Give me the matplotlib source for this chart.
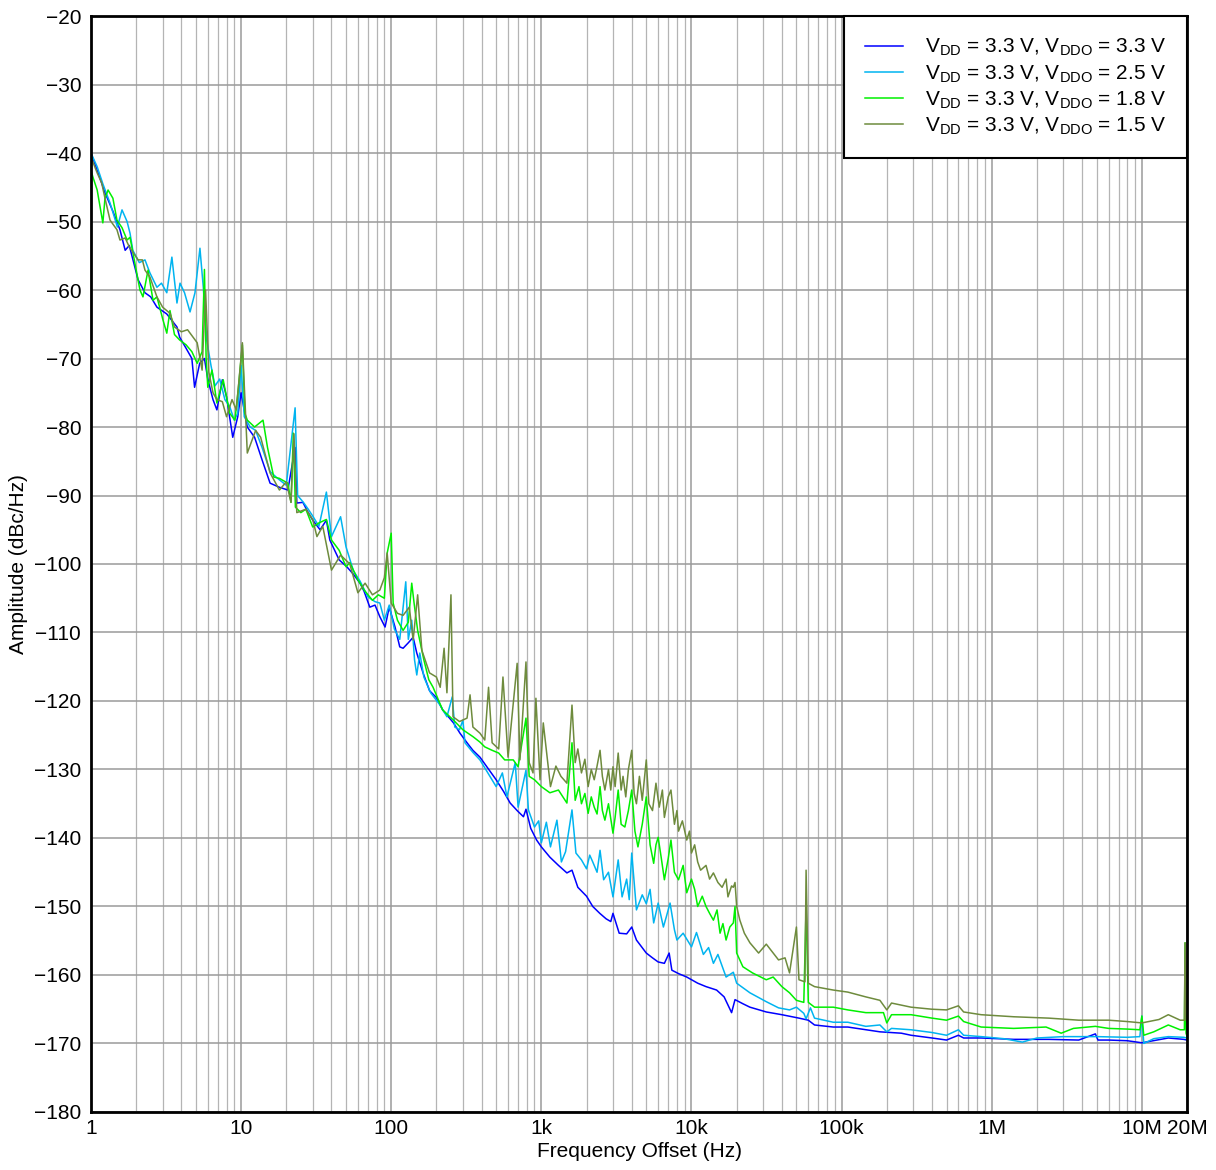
import matplotlib
matplotlib.use("Agg")
import matplotlib.pyplot as plt
from matplotlib.ticker import FixedLocator, LogLocator, NullFormatter

plt.rcParams['font.family'] = ['Liberation Sans', 'DejaVu Sans']
plt.rcParams['mathtext.fontset'] = 'custom'
plt.rcParams['mathtext.rm'] = 'Liberation Sans'

# ---- data: (offset in Hz, phase noise in dBc/Hz) ----
blue_pts = [
    (1, -40), (1.1, -42.5), (1.24, -45.8), (1.4, -48.5), (1.56, -51.2), (1.69, -54.2), (1.8, -53.5),
    (2.06, -58.5), (2.29, -60.4), (2.5, -61), (2.75, -62.5), (3.2, -63.5), (3.74, -65.4), (3.9, -66.9),
    (4.3, -68.5), (4.7, -70), (4.9, -74.2), (5.3, -70.7), (5.7, -70), (6.0, -73), (6.5, -76),
    (6.9, -77.5), (7.5, -73.1), (8.0, -75.6), (8.8, -81.5), (9.5, -78.5), (10, -75), (11, -80),
    (12.3, -81.5), (13.8, -84.8), (15.6, -88.2), (18, -88.8), (20.5, -89.2), (22.9, -83),
    (23.5, -91.1), (25.8, -91), (28, -92.5), (30, -93.6), (33.6, -95), (37, -93.6), (39, -96.5),
    (42, -98), (45, -99.4), (50.6, -100.4), (56, -101.5), (62, -102.8), (66, -104), (72, -106.3),
    (78, -106), (84, -107.7), (91, -109.2), (97, -106.3), (106, -109.2), (114, -112.1),
    (120, -112.3), (130, -111.5), (140, -110.7), (148, -113), (163, -115.9), (180, -118.5),
    (200, -119.5), (220, -121.3), (240, -122.3), (260, -123.2), (287, -124.7), (320, -126.1),
    (350, -127.2), (390, -128.2), (440, -129.8), (500, -131.5), (560, -133.2), (620, -134.9),
    (690, -136), (760, -136.9), (790, -135.8), (850, -138.6), (930, -140.3), (1000, -141.3),
    (1140, -142.8), (1300, -144), (1480, -145.1), (1600, -144.7), (1750, -147.2), (2000, -148.5),
    (2200, -150), (2450, -151), (2700, -151.8), (2900, -152.2), (3000, -151), (3300, -153.9),
    (3700, -154), (4000, -153), (4300, -154.9), (5000, -156.8), (5500, -157.5), (6000, -158.1),
    (6600, -158.3), (7100, -156.8), (7400, -159.3), (8200, -159.8), (9300, -160.3),
    (11000, -161.2), (12500, -161.7), (14700, -162.2), (16500, -163.2), (18500, -165.5),
    (19500, -163.6), (22000, -164.2), (24500, -164.7), (31500, -165.4), (40000, -165.8),
    (52000, -166.3), (60000, -166.6), (66000, -167.3), (88000, -167.6), (110000, -167.6),
    (145000, -168), (180000, -168.3), (210000, -168.4), (250000, -168.5), (290000, -168.8),
    (400000, -169.2), (500000, -169.5), (600000, -168.8), (650000, -169.2), (850000, -169.2),
    (1.4e6, -169.4), (2.4e6, -169.4), (3.8e6, -169.5), (4.9e6, -168.6), (5.1e6, -169.5),
    (6e6, -169.5), (8e6, -169.6), (1e7, -169.9), (1.5e7, -169.2), (1.9e7, -169.4), (2e7, -169.5)]

cyan_pts = [
    (1, -40), (1.1, -42), (1.2, -44.5), (1.34, -47.3), (1.5, -50.8), (1.61, -48.3), (1.74, -50),
    (1.82, -51.7), (1.9, -54.2), (2.1, -56), (2.29, -55.6), (2.47, -57.5), (2.75, -59.6),
    (2.95, -59), (3.2, -60.4), (3.46, -55.2), (3.74, -61.9), (3.92, -59), (4.2, -60.4),
    (4.57, -63.2), (4.93, -60.4), (5.32, -53.9), (5.6, -59.6), (5.9, -67.3), (6.3, -71), (6.7, -74),
    (7.2, -73), (7.8, -76), (8.4, -77), (9.0, -79), (9.5, -78), (10, -71), (10.5, -78.5),
    (11.5, -80), (12.5, -80.5), (13.8, -83), (15.6, -86.5), (17.5, -87.5), (20, -88.5),
    (22.9, -77.2), (23.8, -90), (26, -91), (28, -92), (30, -93), (33, -94.5), (37, -89.5),
    (40, -96), (46, -93.1), (50, -97.5), (56, -101), (62, -102.5), (70, -104.8), (78, -105.5),
    (84, -105.7), (90, -108.2), (97, -106), (105, -109.5), (114, -111), (125, -102.6), (130, -111),
    (137, -108.2), (143, -114), (148, -116.2), (155, -113), (165, -116.5), (183, -118.8),
    (210, -120.5), (235, -122.3), (255, -119.4), (265, -123.8), (285, -124.2), (300, -122.8),
    (310, -126.1), (350, -127.5), (390, -128.6), (440, -130.5), (500, -132.5), (550, -130.5),
    (590, -134), (670, -129), (700, -135.5), (790, -130.1), (820, -135.9), (900, -138.4),
    (960, -137.5), (1000, -140.7), (1080, -137.7), (1150, -141.3), (1270, -137.4), (1360, -143.5),
    (1450, -142), (1600, -135.9), (1700, -142.2), (1850, -143.2), (2000, -144.5), (2100, -142.5),
    (2200, -143.5), (2350, -145), (2460, -141.8), (2600, -146.1), (2800, -145), (3000, -148.6),
    (3250, -143.2), (3450, -148.6), (3700, -146), (3850, -149), (4000, -142.2), (4300, -150.5),
    (4700, -148.3), (5000, -149.6), (5300, -147.5), (5600, -152.4), (6000, -149.5), (6500, -153),
    (6800, -151.5), (7200, -149.5), (7700, -153.4), (8000, -154.9), (8800, -153.9),
    (10000, -155.9), (10800, -153.8), (12000, -157), (13000, -156), (14000, -158.3),
    (15000, -157), (17000, -160.3), (19000, -159.6), (20000, -161.2), (24500, -162.6),
    (31500, -163.9), (38000, -164.8), (45000, -165.1), (50000, -164.7), (56000, -165.6),
    (58000, -166.4), (62000, -164.8), (66000, -166.3), (88000, -166.9), (110000, -166.9),
    (145000, -167.5), (180000, -167.3), (200000, -168.3), (215000, -167.8), (290000, -168),
    (400000, -168.4), (500000, -168.8), (600000, -168), (650000, -168.8), (850000, -169),
    (1.2e6, -169.3), (1.6e6, -169.8), (2e6, -169.2), (3e6, -169), (5e6, -169), (8e6, -169.1),
    (9.7e6, -169), (1e7, -166), (1.03e7, -170), (1.2e7, -169.3), (1.5e7, -169), (1.9e7, -169.1),
    (2e7, -169.2)]

green_pts = [
    (1, -42.5), (1.03, -43.5), (1.1, -45.4), (1.18, -49.3), (1.2, -50.2), (1.24, -46.6),
    (1.3, -45.4), (1.4, -46.6), (1.49, -49.8), (1.61, -50.9), (1.74, -52.7), (1.82, -52.3),
    (1.96, -56), (2.12, -60), (2.22, -61), (2.4, -57.1), (2.59, -61.5), (2.75, -61), (3.02, -64.4),
    (3.2, -66.3), (3.36, -63), (3.6, -66.5), (3.9, -67.3), (4.3, -68), (4.7, -69), (5.1, -70.7),
    (5.5, -69), (5.7, -57), (5.85, -70), (6.0, -74.2), (6.4, -71.7), (6.9, -76.5), (7.6, -73.1),
    (8.4, -78), (9.1, -79), (9.6, -74.2), (10.2, -68), (10.6, -78), (11, -79), (12.3, -80),
    (14, -79), (15, -83), (16.5, -87.3), (18, -87.5), (20.5, -88.2), (21.5, -91), (22.3, -80.9),
    (23, -91.7), (25, -92.5), (27, -92), (30, -94.6), (33, -94), (37, -93.5), (40, -96.5),
    (45, -98), (50, -100.4), (53, -99.8), (60, -102.3), (66, -103.8), (75, -105.3), (82, -104.5),
    (90, -105), (94, -98.4), (100, -95.5), (103, -105.7), (110, -108.2), (120, -109.7),
    (130, -108.5), (137, -102.8), (142, -105.7), (150, -109.7), (165, -114), (178, -116.9),
    (190, -118), (220, -121.3), (260, -122.8), (300, -124.2), (350, -125.2), (390, -126),
    (420, -126.7), (470, -127.2), (520, -127.6), (570, -128.6), (650, -128.6), (700, -129.6),
    (790, -122.5), (830, -131), (900, -131.5), (1000, -132.5), (1140, -133.4), (1300, -133),
    (1480, -134.9), (1600, -126.1), (1680, -134.5), (1780, -132.5), (1850, -135), (1950, -133.5),
    (2050, -136.4), (2150, -134), (2250, -135.5), (2350, -136.5), (2460, -132.5), (2550, -136),
    (2650, -137.4), (2800, -135), (3000, -139.3), (3100, -137), (3250, -133), (3400, -138),
    (3600, -138.4), (3800, -136), (4000, -133), (4200, -139), (4400, -141.3), (4700, -138),
    (5000, -134), (5300, -141), (5600, -143.7), (5800, -141), (6000, -139.9), (6300, -143),
    (6600, -146.1), (7000, -143), (7300, -140.3), (7700, -145), (8200, -146.1), (8800, -144),
    (9300, -148), (10000, -146), (10500, -147.5), (11000, -150), (11800, -148.5), (12500, -150),
    (13200, -151), (14000, -152), (14800, -150.5), (15500, -153.9), (16200, -152.5),
    (17000, -154.9), (18000, -153), (19000, -152.4), (19500, -150), (20000, -156.8),
    (22000, -158.8), (25500, -159.7), (31500, -160.7), (35000, -160.3), (40000, -161.7),
    (45000, -162.6), (50000, -163.7), (56000, -164), (58000, -150), (60000, -164), (66000, -164.7),
    (88000, -164.7), (110000, -165.1), (145000, -165.5), (190000, -165.5), (200000, -167),
    (215000, -165.8), (290000, -165.8), (400000, -166.3), (500000, -166.6), (600000, -166),
    (650000, -166.8), (850000, -167.6), (1.4e6, -167.8), (2.3e6, -167.6), (2.9e6, -168.5),
    (3.5e6, -167.8), (4.9e6, -167.5), (6e6, -167.8), (8e6, -167.9), (9.7e6, -168), (1e7, -166),
    (1.03e7, -168.8), (1.2e7, -168.3), (1.5e7, -167.3), (1.8e7, -168), (1.92e7, -168),
    (1.94e7, -155.3), (1.97e7, -168.5), (2e7, -169)]

olive_pts = [
    (1, -40.6), (1.1, -42.9), (1.18, -44.4), (1.24, -46.6), (1.34, -49.8), (1.49, -51.2),
    (1.56, -52.7), (1.69, -52.4), (1.8, -53.7), (2.06, -55.6), (2.2, -55.6), (2.29, -57.1),
    (2.47, -58.1), (2.75, -61), (3.0, -62.5), (3.36, -63.4), (3.6, -65.4), (4.0, -66.1),
    (4.4, -65.8), (5.1, -67.7), (5.5, -71.7), (5.8, -60), (6.1, -72), (6.5, -75), (6.9, -76),
    (7.5, -76.3), (8.0, -78.5), (8.7, -76), (9.3, -77.5), (10.2, -67.7), (11, -83.8), (12.5, -80.5),
    (13.5, -81.5), (15.6, -86.7), (18, -89.2), (20, -88), (21.5, -91), (22.5, -81), (23.5, -92.5),
    (27, -92), (30, -93.5), (32, -96), (35, -94.5), (40, -100.9), (46, -98.7), (53, -100),
    (60, -104.2), (67, -102.8), (75, -104.5), (84, -103.8), (90, -102), (94, -98.4), (100, -105.7),
    (110, -107.2), (120, -107.5), (132, -106.3), (140, -111.1), (150, -104.5), (160, -112.6),
    (180, -115.9), (200, -116.5), (212, -118), (225, -112.3), (235, -118.8), (250, -104.5),
    (258, -122.3), (285, -123), (320, -122.5), (335, -119.1), (350, -123.8), (390, -124.7),
    (420, -125.7), (445, -118), (470, -126.1), (520, -127), (555, -116.5), (600, -128.2),
    (690, -114.5), (720, -128.6), (790, -114.3), (830, -129), (880, -130.5), (920, -119.6),
    (980, -131.5), (1030, -123.2), (1150, -132.5), (1250, -129.5), (1350, -131), (1480, -132),
    (1600, -120.6), (1680, -129), (1750, -127), (1850, -130.5), (1950, -128.5), (2050, -132.5),
    (2150, -130), (2250, -131.5), (2350, -129.5), (2460, -127.2), (2550, -131), (2650, -133),
    (2800, -130), (2900, -133), (3000, -129.6), (3100, -132.5), (3250, -127.6), (3400, -133),
    (3500, -131), (3650, -134), (3800, -130), (4000, -127.2), (4150, -133.5), (4300, -135),
    (4500, -131), (4700, -134.5), (5000, -128.6), (5200, -135), (5500, -136), (5800, -132),
    (6100, -135.5), (6400, -133), (6600, -137), (7000, -134), (7300, -133), (7700, -138),
    (8000, -136), (8200, -139), (8700, -137.5), (9300, -140.3), (9700, -139), (10000, -142.2),
    (10500, -141), (11000, -143.5), (11500, -144.7), (12500, -144), (13200, -146), (14000, -145.1),
    (15000, -146.5), (16000, -147.2), (17000, -146), (17500, -148.6), (18500, -147),
    (19000, -147.2), (19500, -146.5), (20000, -150), (21000, -152), (22500, -153.9),
    (24500, -155.3), (28000, -156.8), (31500, -155.5), (38000, -157.8), (42000, -157.5),
    (45000, -159.7), (50000, -153), (52000, -160.7), (57000, -161), (58000, -144.7),
    (60000, -161.2), (66000, -161.7), (88000, -162.2), (110000, -162.5), (145000, -163.2),
    (180000, -163.7), (200000, -165.1), (215000, -164.1), (290000, -164.7), (400000, -165),
    (500000, -165.1), (600000, -164.5), (650000, -165.4), (850000, -165.8), (1.4e6, -166.1),
    (2.4e6, -166.3), (3.8e6, -166.6), (6e6, -166.6), (8e6, -166.8), (1e7, -167), (1.3e7, -166.5),
    (1.5e7, -165.8), (1.8e7, -166.6), (1.92e7, -166.6), (1.94e7, -155.3), (1.97e7, -166.5),
    (2e7, -167)]

labels = [r'V$_{\mathregular{DD}}$ = 3.3 V, V$_{\mathregular{DDO}}$ = 3.3 V',
          r'V$_{\mathregular{DD}}$ = 3.3 V, V$_{\mathregular{DDO}}$ = 2.5 V',
          r'V$_{\mathregular{DD}}$ = 3.3 V, V$_{\mathregular{DDO}}$ = 1.8 V',
          r'V$_{\mathregular{DD}}$ = 3.3 V, V$_{\mathregular{DDO}}$ = 1.5 V']
colors = ['#0000FF', '#00B4F0', '#00F000', '#6E8B3D']

x_ticks = [1, 10, 100, 1e3, 1e4, 1e5, 1e6, 1e7, 2e7]
x_tick_labels = ['1', '10', '100', '1k', '10k', '100k', '1M', '10M', '20M']
y_ticks = list(range(-180, -19, 10))

fig = plt.figure(figsize=(12.16, 11.70), dpi=100)
ax = fig.add_axes([0.0748, 0.0496, 0.9014, 0.9367])

for pts, lab, col in zip([blue_pts, cyan_pts, green_pts, olive_pts], labels, colors):
    f, db = zip(*pts)
    ax.plot(f, db, color=col, lw=1.1, label=lab)

ax.set_xscale('log')
ax.set_xlim(1, 2e7)
ax.set_ylim(-180, -20)

ax.xaxis.set_major_locator(FixedLocator(x_ticks))
ax.set_xticklabels(x_tick_labels)
ax.xaxis.set_minor_locator(LogLocator(base=10, subs=range(2, 10), numticks=20))
ax.xaxis.set_minor_formatter(NullFormatter())
ax.set_yticks(y_ticks)
ax.set_yticklabels([str(v).replace('-', '\u2212') for v in y_ticks])

ax.grid(which='major', color='#9a9a9a', lw=1.1)
ax.grid(which='minor', axis='x', color='#b4b4b4', lw=0.9)
ax.set_axisbelow(True)
ax.tick_params(which='both', length=0, labelsize=15)
ax.tick_params(axis='y', pad=7)
ax.tick_params(axis='x', pad=5)

for sp in ax.spines.values():
    sp.set_linewidth(2)
    sp.set_color('black')

ax.set_xlabel('Frequency Offset (Hz)', fontsize=15, labelpad=3)
ax.set_ylabel('Amplitude (dBc/Hz)', fontsize=15, labelpad=4)

leg = ax.legend(loc='upper right', borderaxespad=0, fancybox=False, framealpha=1,
                edgecolor='black', fontsize=15, handlelength=1.8, labelspacing=0.22,
                borderpad=1.0, handletextpad=1.05)
leg.get_frame().set_linewidth(1.5)

fig.savefig('out.png', dpi=100)
